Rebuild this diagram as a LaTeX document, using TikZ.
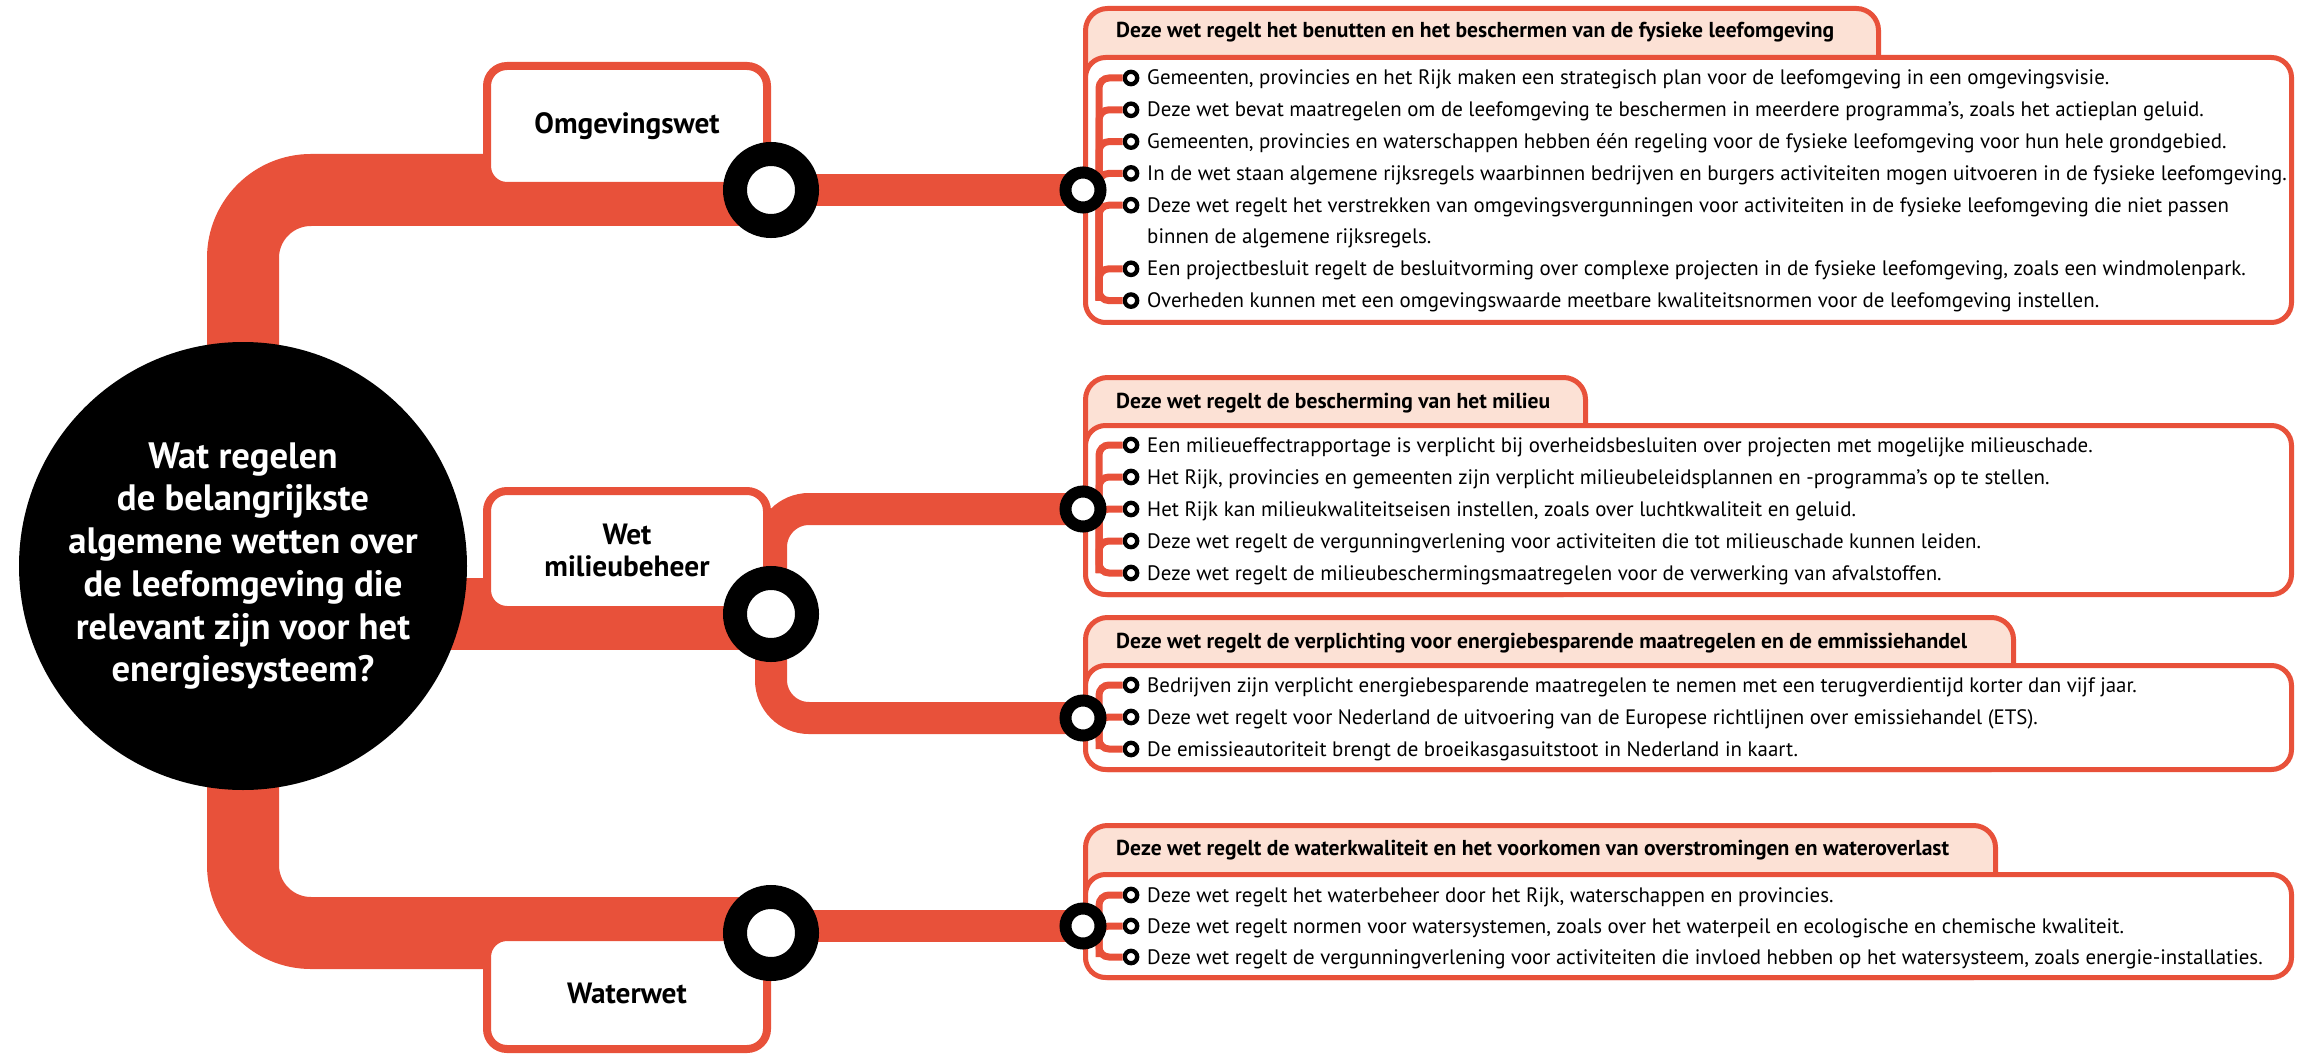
\documentclass[tikz,border=0pt]{standalone}
\usepackage{fontspec}
\setmainfont{PT Sans}
\usetikzlibrary{backgrounds}
\definecolor{wetred}{HTML}{E8513A}
\definecolor{wetpeach}{HTML}{FCE1D5}

\begin{document}
\begin{tikzpicture}[x=1pt,y=-1pt]

\tikzset{hub/.style = {shape=circle,fill=black,minimum size=448pt,inner sep=0pt,text=white,align=center,font=\fontsize{36.7}{42.7}\selectfont\bfseries}}
\tikzset{lawbox/.style = {shape=rectangle,draw=wetred,line width=8pt,fill=white,rounded corners=20pt,minimum width=280pt,align=center,font=\fontsize{29.3}{32}\selectfont\bfseries}}
\tikzset{ring/.style = {shape=circle,draw=black,line width=24pt,fill=white,minimum size=72pt,inner sep=0pt}}
\tikzset{junction/.style = {shape=circle,draw=black,line width=12pt,fill=white,minimum size=35pt,inner sep=0pt}}
\tikzset{itemdot/.style = {shape=circle,draw=black,line width=4.3pt,fill=white,minimum size=12.4pt,inner sep=0pt}}
\tikzset{thickpipe/.style = {draw=wetred,line width=72pt,rounded corners=68pt}}
\tikzset{thinpipe/.style = {draw=wetred,line width=32pt,rounded corners=38pt}}
\tikzset{twig/.style = {draw=wetred,line width=7pt,rounded corners=10pt}}
\tikzset{tabbox/.style = {draw=wetred,line width=5pt,fill=wetpeach,rounded corners=22pt}}
\tikzset{sheetbox/.style = {draw=wetred,line width=5pt,fill=white,rounded corners=20pt}}
\tikzset{headtext/.style = {anchor=base west,inner sep=0pt,font=\fontsize{21.6}{32}\selectfont\bfseries}}
\tikzset{itemtext/.style = {anchor=base west,inner sep=0pt,align=left,font=\fontsize{20.9}{31.8}\selectfont}}

\useasboundingbox (0,0) rectangle (2298,1056);

%panels
\draw[tabbox] (1085.5,8.5) rectangle (1878.5,322.5);
\draw[sheetbox] (1085.5,57.5) rectangle (2291.5,322.5);
\draw[tabbox] (1085.5,377.5) rectangle (1585.5,594.5);
\draw[sheetbox] (1085.5,425.5) rectangle (2291.5,594.5);
\draw[tabbox] (1085.5,617.5) rectangle (2013.5,769.5);
\draw[sheetbox] (1085.5,665.5) rectangle (2291.5,769.5);
\draw[tabbox] (1085.5,825.5) rectangle (1995.5,977.5);
\draw[sheetbox] (1085.5,874.5) rectangle (2291.5,977.5);

%headers
\node[headtext] (h1) at (1116,38) {Deze wet regelt het benutten en het beschermen van de fysieke leefomgeving};
\node[headtext] (h2) at (1116,408) {Deze wet regelt de bescherming van het milieu};
\node[headtext] (h3) at (1116,648) {Deze wet regelt de verplichting voor energiebesparende maatregelen en de emmissiehandel};
\node[headtext] (h4) at (1116,855) {Deze wet regelt de waterkwaliteit en het voorkomen van overstromingen en wateroverlast};

%omgevingswet items
\node[itemdot] (o1a) at (1131,78) {};
\node[itemdot] (o1b) at (1131,109.8) {};
\node[itemdot] (o1c) at (1131,141.6) {};
\node[itemdot] (o1d) at (1131,173.4) {};
\node[itemdot] (o1e) at (1131,205.2) {};
\node[itemdot] (o1f) at (1131,268.8) {};
\node[itemdot] (o1g) at (1131,300.6) {};
\node[itemtext] (t1a) at (1147,85) {Gemeenten, provincies en het Rijk maken een strategisch plan voor de leefomgeving in een omgevingsvisie.};
\node[itemtext] (t1b) at (1147,116.8) {Deze wet bevat maatregelen om de leefomgeving te beschermen in meerdere programma’s, zoals het actieplan geluid.};
\node[itemtext] (t1c) at (1147,148.6) {Gemeenten, provincies en waterschappen hebben één regeling voor de fysieke leefomgeving voor hun hele grondgebied.};
\node[itemtext] (t1d) at (1147,180.4) {In de wet staan algemene rijksregels waarbinnen bedrijven en burgers activiteiten mogen uitvoeren in de fysieke leefomgeving.};
\node[itemtext] (t1e) at (1147,244) {Deze wet regelt het verstrekken van omgevingsvergunningen voor activiteiten in de fysieke leefomgeving die niet passen\\binnen de algemene rijksregels.};
\node[itemtext] (t1f) at (1147,275.8) {Een projectbesluit regelt de besluitvorming over complexe projecten in de fysieke leefomgeving, zoals een windmolenpark.};
\node[itemtext] (t1g) at (1147,307.6) {Overheden kunnen met een omgevingswaarde meetbare kwaliteitsnormen voor de leefomgeving instellen.};
\coordinate (b1) at (1099,300.6);
\draw[twig] (o1a) -| (b1) -- (o1g);
\draw[twig] (o1b) -| (b1);
\draw[twig] (o1c) -| (b1);
\draw[twig] (o1d) -| (b1);
\draw[twig] (o1e) -| (b1);
\draw[twig] (o1f) -| (b1);

%milieu items
\node[itemdot] (o2a) at (1131,445) {};
\node[itemdot] (o2b) at (1131,477) {};
\node[itemdot] (o2c) at (1131,509) {};
\node[itemdot] (o2d) at (1131,541) {};
\node[itemdot] (o2e) at (1131,573) {};
\node[itemtext] (t2a) at (1147,452) {Een milieueffectrapportage is verplicht bij overheidsbesluiten over projecten met mogelijke milieuschade.};
\node[itemtext] (t2b) at (1147,484) {Het Rijk, provincies en gemeenten zijn verplicht milieubeleidsplannen en -programma’s op te stellen.};
\node[itemtext] (t2c) at (1147,516) {Het Rijk kan milieukwaliteitseisen instellen, zoals over luchtkwaliteit en geluid.};
\node[itemtext] (t2d) at (1147,548) {Deze wet regelt de vergunningverlening voor activiteiten die tot milieuschade kunnen leiden.};
\node[itemtext] (t2e) at (1147,580) {Deze wet regelt de milieubeschermingsmaatregelen voor de verwerking van afvalstoffen.};
\coordinate (b2) at (1099,573);
\draw[twig] (o2a) -| (b2) -- (o2e);
\draw[twig] (o2b) -| (b2);
\draw[twig] (o2c) -| (b2);
\draw[twig] (o2d) -| (b2);

%energie items
\node[itemdot] (o3a) at (1131,685) {};
\node[itemdot] (o3b) at (1131,717) {};
\node[itemdot] (o3c) at (1131,749) {};
\node[itemtext] (t3a) at (1147,692) {Bedrijven zijn verplicht energiebesparende maatregelen te nemen met een terugverdientijd korter dan vijf jaar.};
\node[itemtext] (t3b) at (1147,724) {Deze wet regelt voor Nederland de uitvoering van de Europese richtlijnen over emissiehandel (ETS).};
\node[itemtext] (t3c) at (1147,756) {De emissieautoriteit brengt de broeikasgasuitstoot in Nederland in kaart.};
\coordinate (b3) at (1099,749);
\draw[twig] (o3a) -| (b3) -- (o3c);
\draw[twig] (o3b) -| (b3);

%water items
\node[itemdot] (o4a) at (1131,895) {};
\node[itemdot] (o4b) at (1131,926) {};
\node[itemdot] (o4c) at (1131,957) {};
\node[itemtext] (t4a) at (1147,902) {Deze wet regelt het waterbeheer door het Rijk, waterschappen en provincies.};
\node[itemtext] (t4b) at (1147,933) {Deze wet regelt normen voor watersystemen, zoals over het waterpeil en ecologische en chemische kwaliteit.};
\node[itemtext] (t4c) at (1147,964) {Deze wet regelt de vergunningverlening voor activiteiten die invloed hebben op het watersysteem, zoals energie-installaties.};
\coordinate (b4) at (1099,957);
\draw[twig] (o4a) -| (b4) -- (o4c);
\draw[twig] (o4b) -| (b4);

%question and laws
\node[hub] (hub) at (243,566) {Wat regelen\\de belangrijkste\\algemene wetten over\\de leefomgeving die\\relevant zijn voor het\\energiesysteem?};
\node[lawbox, minimum height=120pt] (omgbox) at (627,126) {Omgevingswet};
\node[lawbox, minimum height=119pt] (wmbox) at (627,550.5) {Wet\\milieubeheer};
\node[lawbox, minimum height=112pt] (wwbox) at (627,993) {Waterwet};

%stations
\node[ring] (omgring) at (771,190) {};
\node[ring] (wmring) at (771,614) {};
\node[ring] (wwring) at (771,933) {};
\node[junction] (jomg) at (1083,190) {};
\node[junction] (jmil) at (1083,509) {};
\node[junction] (jen) at (1083,718) {};
\node[junction] (jwat) at (1083,926) {};

%pipes
\begin{scope}[on background layer]
\draw[thickpipe] (omgring.center) -| (hub.center) |- (wwring.center);
\draw[thickpipe] (hub.center |- wmring.center) -- (wmring.center);
\draw[thinpipe] (omgring.center) -- (jomg.center);
\draw[thinpipe] (jmil.center) -| (wmring.center) |- (jen.center);
\draw[thinpipe] (wwring.center |- jwat.center) -- (jwat.center);
\end{scope}

\end{tikzpicture}
\end{document}
